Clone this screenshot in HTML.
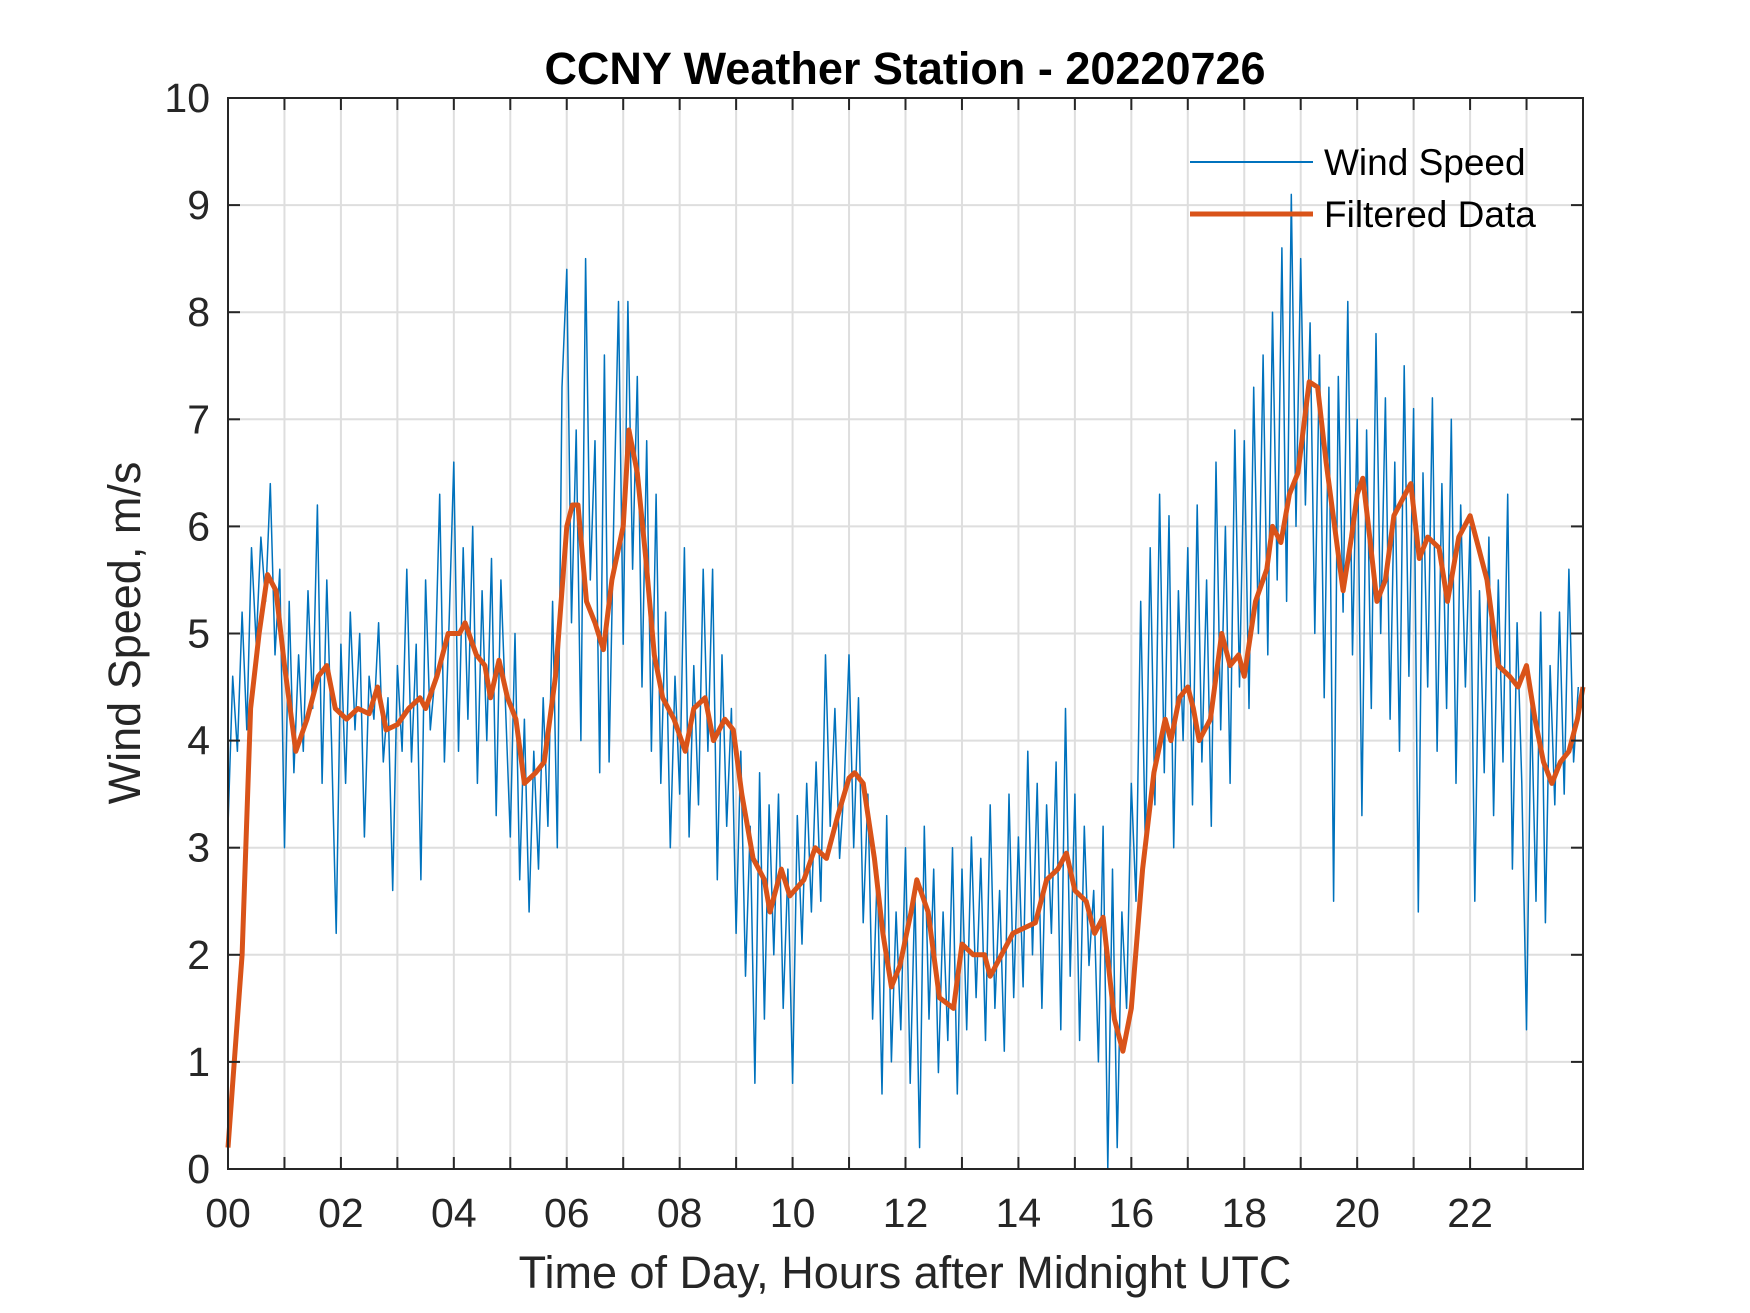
<!DOCTYPE html>
<html><head><meta charset="utf-8"><style>
body{margin:0;background:#fff;}
svg{display:block;font-family:"Liberation Sans",Arial,sans-serif;}
</style></head><body>
<svg id="chart" width="1750" height="1313" viewBox="0 0 1750 1313" xmlns="http://www.w3.org/2000/svg">
<rect width="1750" height="1313" fill="#fff"/>
<g id="grid"></g>
<g id="series"></g>
<g id="axes"></g>
<text x="905" y="84" text-anchor="middle" font-size="45" font-weight="bold" fill="#000">CCNY Weather Station - 20220726</text>
<text x="905" y="1288" text-anchor="middle" font-size="45" fill="#262626">Time of Day, Hours after Midnight UTC</text>
<text transform="translate(140,633) rotate(-90)" text-anchor="middle" font-size="45" fill="#262626">Wind Speed, m/s</text>
<g>
<line x1="1190" y1="162" x2="1313" y2="162" stroke="#0072BD" stroke-width="2"/>
<text x="1324" y="175" font-size="37" fill="#000">Wind Speed</text>
<line x1="1190" y1="214" x2="1313" y2="214" stroke="#D95319" stroke-width="5"/>
<text x="1324" y="227" font-size="37" fill="#000">Filtered Data</text>
</g>
</svg>
<script>
const rawValues = [
3.2,4.6,3.9,5.2,4.1,5.8,4.9,5.9,5.3,6.4,4.8,5.6,
3.0,5.3,3.7,4.8,3.9,5.4,4.3,6.2,3.6,5.5,4.0,2.2,
4.9,3.6,5.2,4.1,5.0,3.1,4.6,4.2,5.1,3.8,4.4,2.6,
4.7,3.9,5.6,3.8,4.9,2.7,5.5,4.1,4.6,6.3,3.8,5.1,
6.6,3.9,5.8,4.2,6.0,3.6,5.4,4.0,5.7,3.3,5.5,4.3,
3.1,5.0,2.7,4.2,2.4,3.9,2.8,4.4,3.2,5.3,3.0,7.3,
8.4,5.1,6.9,4.0,8.5,5.5,6.8,3.7,7.6,3.8,6.1,8.1,
4.9,8.1,5.6,7.4,4.5,6.8,3.9,6.3,3.6,5.2,3.0,4.6,
3.5,5.8,3.1,4.7,3.4,5.6,3.9,5.6,2.7,4.8,3.2,4.3,
2.2,3.9,1.8,3.2,0.8,3.7,1.4,3.4,2.0,3.5,1.5,2.8,
0.8,3.3,2.1,3.6,2.4,3.8,2.5,4.8,3.2,4.3,2.9,3.6,
4.8,3.0,4.4,2.3,3.5,1.4,2.8,0.7,3.3,1.0,2.4,1.3,
3.0,0.8,2.6,0.2,3.2,1.4,2.8,0.9,2.4,1.2,3.0,0.7,
2.8,1.3,3.1,1.6,2.9,1.2,3.4,1.5,2.6,1.1,3.5,1.6,
3.1,1.7,3.9,2.0,3.6,1.5,3.4,2.2,3.8,1.3,4.3,1.8,
3.5,1.2,3.2,1.9,2.6,1.0,3.2,0.0,2.8,0.2,2.4,1.5,
3.6,2.5,5.3,3.0,5.8,3.4,6.3,3.7,6.1,3.0,5.4,4.0,
5.8,3.4,6.2,3.8,5.5,3.2,6.6,4.1,6.0,3.6,6.9,4.5,
6.8,4.3,7.3,5.0,7.6,4.8,8.0,5.5,8.6,5.3,9.1,6.0,
8.5,6.2,7.9,5.0,7.6,4.4,7.3,2.5,7.4,5.2,8.1,4.8,
7.0,3.3,6.9,4.3,7.8,5.0,7.2,4.2,6.6,3.9,7.5,4.6,
7.1,2.4,6.5,4.5,7.2,3.9,6.4,4.3,7.0,3.6,6.2,4.5,
6.0,2.5,5.4,3.7,5.9,3.3,5.5,3.8,6.3,2.8,5.1,3.6,
1.3,4.4,2.5,5.2,2.3,4.7,3.4,5.2,3.5,5.6,3.8,4.5
];
const filtHours = [0,0.25,0.4,0.55,0.7,0.85,1.0,1.2,1.4,1.6,1.75,1.9,2.1,2.3,2.5,2.65,2.8,3.0,3.2,3.4,3.5,3.7,3.9,4.1,4.2,4.4,4.55,4.65,4.8,4.95,5.1,5.25,5.45,5.6,5.8,6.0,6.1,6.2,6.35,6.5,6.65,6.8,7.0,7.1,7.25,7.4,7.55,7.7,7.9,8.1,8.25,8.45,8.6,8.8,8.95,9.1,9.3,9.5,9.6,9.8,9.95,10.2,10.4,10.6,10.8,11.0,11.1,11.25,11.45,11.6,11.75,11.9,12.1,12.2,12.4,12.6,12.85,13.0,13.2,13.4,13.5,13.7,13.9,14.1,14.3,14.5,14.7,14.85,15.0,15.2,15.35,15.5,15.7,15.85,16.0,16.2,16.4,16.6,16.7,16.85,17.0,17.1,17.2,17.4,17.6,17.75,17.9,18.0,18.2,18.4,18.5,18.65,18.8,18.95,19.15,19.3,19.45,19.6,19.75,19.9,20.0,20.1,20.2,20.35,20.5,20.65,20.75,20.95,21.1,21.25,21.45,21.6,21.8,22.0,22.15,22.3,22.5,22.7,22.85,23.0,23.15,23.3,23.45,23.6,23.75,23.9,24.0];
const filtValues = [0.2,2.0,4.3,5.0,5.55,5.4,4.7,3.9,4.2,4.6,4.7,4.3,4.2,4.3,4.25,4.5,4.1,4.15,4.3,4.4,4.3,4.6,5.0,5.0,5.1,4.8,4.7,4.4,4.75,4.4,4.2,3.6,3.7,3.8,4.6,6.0,6.2,6.2,5.3,5.1,4.85,5.5,6.0,6.9,6.5,5.7,4.8,4.4,4.2,3.9,4.3,4.4,4.0,4.2,4.1,3.5,2.9,2.7,2.4,2.8,2.55,2.7,3.0,2.9,3.3,3.65,3.7,3.6,2.9,2.2,1.7,1.9,2.4,2.7,2.4,1.6,1.5,2.1,2.0,2.0,1.8,2.0,2.2,2.25,2.3,2.7,2.8,2.95,2.6,2.5,2.2,2.35,1.4,1.1,1.5,2.8,3.7,4.2,4.0,4.4,4.5,4.3,4.0,4.2,5.0,4.7,4.8,4.6,5.3,5.6,6.0,5.85,6.3,6.5,7.35,7.3,6.6,6.0,5.4,5.9,6.3,6.45,6.0,5.3,5.5,6.1,6.2,6.4,5.7,5.9,5.8,5.3,5.9,6.1,5.8,5.5,4.7,4.6,4.5,4.7,4.2,3.8,3.6,3.8,3.9,4.2,4.5];
const xTickLabels = ["00","02","04","06","08","10","12","14","16","18","20","22"];
const yTickLabels = ["0","1","2","3","4","5","6","7","8","9","10"];

const L=228,R=1583,T=98,B=1169,XMAX=24,YMAX=10;
const NS="http://www.w3.org/2000/svg";
const xs=h=>L+(R-L)*h/XMAX;
const ys=v=>B-(B-T)*v/YMAX;
function mk(tag,attrs,parent){const e=document.createElementNS(NS,tag);for(const k in attrs)e.setAttribute(k,attrs[k]);parent.appendChild(e);return e;}
const grid=document.getElementById('grid'),axes=document.getElementById('axes'),series=document.getElementById('series');
for(let h=1;h<XMAX;h++){const g=mk('line',{x1:xs(h),x2:xs(h),y1:T,y2:B,stroke:'#dedede','stroke-width':2},grid);

}
for(let v=1;v<YMAX;v++){const g=mk('line',{x1:L,x2:R,y1:ys(v),y2:ys(v),stroke:'#dedede','stroke-width':2},grid);

}
let d='';rawValues.forEach((v,i)=>{const h=i*XMAX/rawValues.length;d+=(i?'L':'M')+xs(h).toFixed(1)+','+ys(v).toFixed(1);});
const p1=mk('path',{d:d,fill:'none',stroke:'#0072BD','stroke-width':1.5,'stroke-linejoin':'round'},series);


let d2='';filtValues.forEach((v,i)=>{d2+=(i?'L':'M')+xs(filtHours[i]).toFixed(1)+','+ys(v).toFixed(1);});
const p2=mk('path',{d:d2,fill:'none',stroke:'#D95319','stroke-width':5,'stroke-linejoin':'round'},series);


const fr=mk('rect',{x:L,y:T,width:R-L,height:B-T,fill:'none',stroke:'#262626','stroke-width':2},axes);


for(let h=0;h<=XMAX;h++){
 mk('line',{x1:xs(h),x2:xs(h),y1:B,y2:B-12,stroke:'#262626','stroke-width':2},axes);
 mk('line',{x1:xs(h),x2:xs(h),y1:T,y2:T+12,stroke:'#262626','stroke-width':2},axes);
}
xTickLabels.forEach((s,i)=>{const t=mk('text',{x:xs(i*2),y:1227,'text-anchor':'middle','font-size':41,fill:'#262626'},axes);t.textContent=s;

});
yTickLabels.forEach((s,i)=>{
 mk('line',{x1:L,x2:L+12,y1:ys(i),y2:ys(i),stroke:'#262626','stroke-width':2},axes);
 mk('line',{x1:R,x2:R-12,y1:ys(i),y2:ys(i),stroke:'#262626','stroke-width':2},axes);
 const t=mk('text',{x:210,y:ys(i)+14,'text-anchor':'end','font-size':41,fill:'#262626'},axes);t.textContent=s;
 
 });
</script>
</body></html>
